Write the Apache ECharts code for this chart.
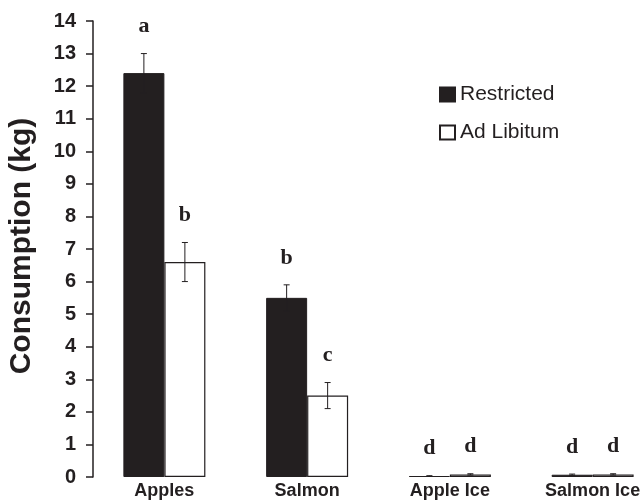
<!DOCTYPE html>
<html>
<head>
<meta charset="utf-8">
<script src="https://cdn.jsdelivr.net/npm/echarts@6/dist/echarts.min.js"></script>
<style>html,body{margin:0;padding:0;background:#fff;overflow:hidden;}#c{width:664px;height:501px;}</style>
</head>
<body>
<div id="c"></div>
<script>
var categories = ['Apples', 'Salmon', 'Apple Ice', 'Salmon Ice'];
var seriesNames = ['Restricted', 'Ad Libitum'];
var restricted = [12.4, 5.5, 0.03, 0.07];
var restrictedErr = [0.6, 0.4, 0.01, 0.02];
var restrictedLetters = ['a', 'b', 'd', 'd'];
var adLibitum = [6.6, 2.5, 0.08, 0.08];
var adLibitumErr = [0.6, 0.4, 0.02, 0.02];
var adLibitumLetters = ['b', 'c', 'd', 'd'];
var yTicks = [0, 14, 1];

var INK = '#231f20';
var BAR_W = 41;

function errSeries(vals, errs, letters, dx) {
  return {
    type: 'custom',
    z: 5,
    data: vals.map(function (v, i) { return [i, v]; }),
    renderItem: function (params, api) {
      var i = params.dataIndex;
      var top = api.coord([i, vals[i] + errs[i]]);
      var bot = api.coord([i, Math.max(0, vals[i] - errs[i])]);
      var x = top[0] + dx;
      var cw = 3;
      return {
        type: 'group',
        children: [
          { type: 'line', shape: { x1: x, y1: top[1], x2: x, y2: bot[1] }, style: { stroke: INK, lineWidth: 1 } },
          { type: 'line', shape: { x1: x - cw, y1: top[1], x2: x + cw, y2: top[1] }, style: { stroke: INK, lineWidth: 1 } },
          { type: 'line', shape: { x1: x - cw, y1: bot[1], x2: x + cw, y2: bot[1] }, style: { stroke: INK, lineWidth: 1 } },
          { type: 'text', x: x, y: top[1] - 16, style: { text: letters[i], fill: INK, font: 'bold 22px "Liberation Serif"', align: 'center', verticalAlign: 'bottom' } }
        ]
      };
    }
  };
}

var chart = echarts.init(document.getElementById('c'), null, { renderer: 'canvas' });
chart.setOption({
  animation: false,
  backgroundColor: '#fff',
  grid: { left: 93, top: 21, right: 0, bottom: 24, containLabel: false },
  legend: {
    data: seriesNames,
    orient: 'vertical',
    left: 434,
    top: 79,
    icon: 'rect',
    itemWidth: 15,
    itemHeight: 14,
    itemGap: 17,
    textStyle: { fontSize: 21, color: INK, fontFamily: 'Liberation Sans' }
  },
  xAxis: {
    type: 'category',
    data: categories,
    axisLine: { show: false },
    axisTick: { show: false },
    axisLabel: { color: INK, fontSize: 18, fontWeight: 'bold', fontFamily: 'Liberation Sans', margin: 5 }
  },
  yAxis: {
    type: 'value',
    min: yTicks[0],
    max: yTicks[1],
    interval: yTicks[2],
    splitLine: { show: false },
    axisLine: { show: true, lineStyle: { color: INK, width: 1.5 } },
    axisTick: { show: true, length: 7, lineStyle: { color: INK, width: 1.5 } },
    axisLabel: { color: INK, fontSize: 20, fontWeight: 'bold', fontFamily: 'Liberation Sans', margin: 17 }
  },
  graphic: [{
    type: 'text',
    x: 22, y: 246,
    rotation: Math.PI / 2,
    style: { text: 'Consumption (kg)', font: 'bold 30px "Liberation Sans"', fill: INK, align: 'center', verticalAlign: 'middle' }
  }],
  series: [
    { name: seriesNames[0], type: 'bar', data: restricted, barWidth: BAR_W, barGap: '0%', itemStyle: { color: INK, borderColor: INK, borderWidth: 1 } },
    { name: seriesNames[1], type: 'bar', data: adLibitum, barWidth: BAR_W, barGap: '0%', itemStyle: { color: '#fff', borderColor: INK, borderWidth: 1.2 } },
    errSeries(restricted, restrictedErr, restrictedLetters, -BAR_W / 2),
    errSeries(adLibitum, adLibitumErr, adLibitumLetters, BAR_W / 2)
  ]
});
</script>
</body>
</html>
